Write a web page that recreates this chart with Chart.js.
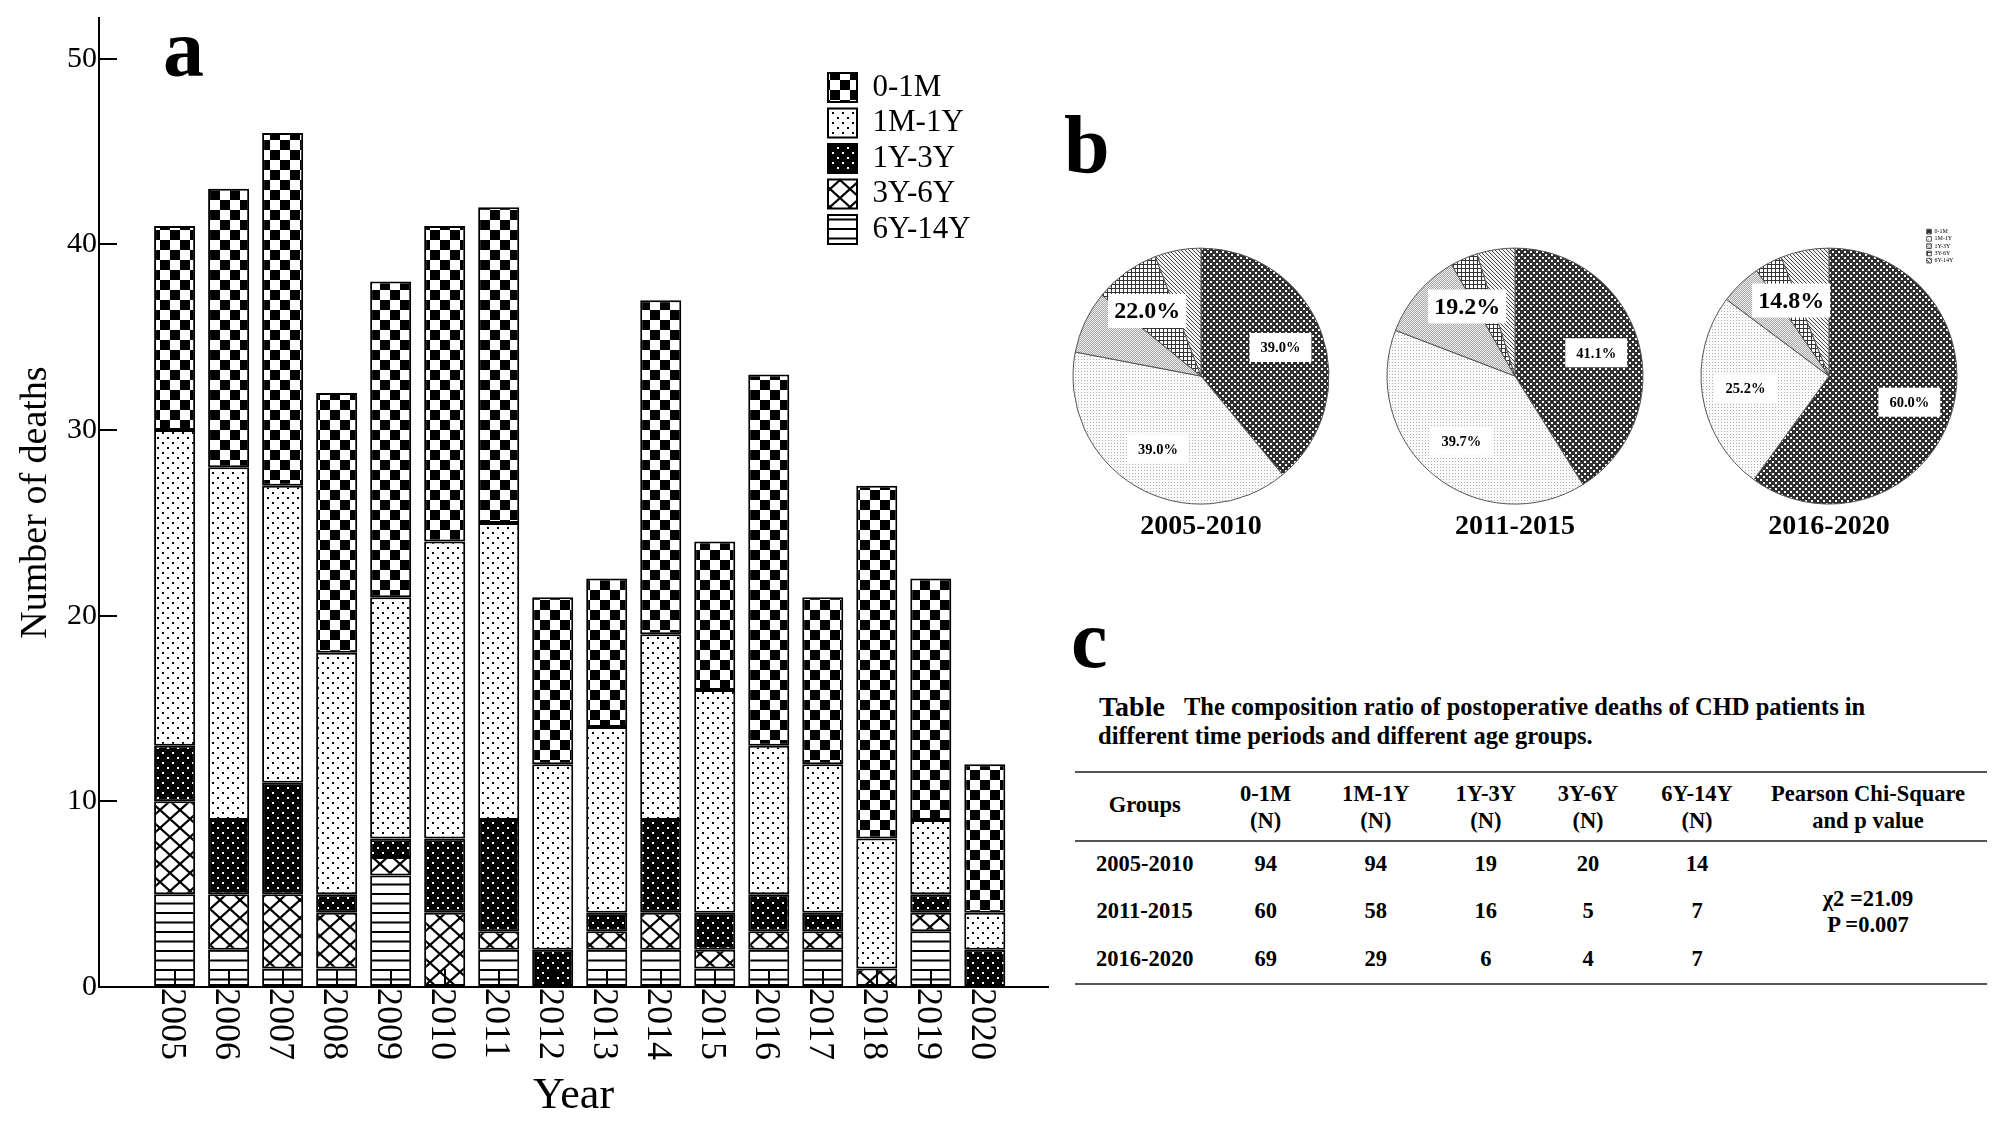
<!DOCTYPE html>
<html>
<head>
<meta charset="utf-8">
<script src="https://cdn.jsdelivr.net/npm/chart.js@4/dist/chart.umd.min.js"></script>
<style>
html,body{margin:0;padding:0;background:#fff;}
body{width:2008px;height:1130px;overflow:hidden;position:relative;font-family:'Liberation Serif','Times New Roman',serif;color:#000;}
canvas{position:absolute;}
.t{position:absolute;white-space:nowrap;font-weight:bold;}
.rule{position:absolute;height:2px;background:#555;left:1075px;width:912px;}
</style>
</head>
<body>
<canvas id="bar" width="1055" height="1130" style="left:0px;top:0px;width:1055px;height:1130px"></canvas>
<canvas id="pie1" width="300" height="344" style="left:1051px;top:200px;width:300px;height:344px"></canvas>
<canvas id="pie2" width="300" height="344" style="left:1365px;top:200px;width:300px;height:344px"></canvas>
<canvas id="pie3" width="300" height="344" style="left:1679px;top:200px;width:300px;height:344px"></canvas>
<div class="rule" style="top:770.7px"></div>
<div class="rule" style="top:839.7px"></div>
<div class="rule" style="top:983px"></div>
<script>
// ---------------- DATA ----------------
const ageGroups = ['0-1M', '1M-1Y', '1Y-3Y', '3Y-6Y', '6Y-14Y'];
const years = [2005, 2006, 2007, 2008, 2009, 2010, 2011, 2012, 2013, 2014, 2015, 2016, 2017, 2018, 2019, 2020];
const yearLabels = ['2005','2006','2007','2008','2009','2010','2011','2012','2013','2014','2015','2016','2017','2018','2019','2020'];
const deaths0_1M  = [11, 15, 19, 14, 17, 17, 17, 9, 8, 18, 8, 20, 9, 19, 13, 8];
const deaths1M_1Y = [17, 19, 16, 13, 13, 16, 16, 10, 10, 10, 12, 8, 8, 7, 4, 2];
const deaths1Y_3Y = [3, 4, 6, 1, 1, 4, 6, 2, 1, 5, 2, 2, 1, 0, 1, 2];
const deaths3Y_6Y = [5, 3, 4, 3, 1, 4, 1, 0, 1, 2, 1, 1, 1, 1, 1, 0];
const deaths6Y_14Y = [5, 2, 1, 1, 6, 0, 2, 0, 2, 2, 1, 2, 2, 0, 3, 0];
const periods = ['2005-2010', '2011-2015', '2016-2020'];
const periodCounts2005_2010 = [94, 94, 19, 20, 14];
const periodCounts2011_2015 = [60, 58, 16, 5, 7];
const periodCounts2016_2020 = [69, 29, 6, 4, 7];
const tableRows = [periodCounts2005_2010, periodCounts2011_2015, periodCounts2016_2020];
const chiLines = ['\u03c72 =21.09', 'P =0.007'];
const panelLetters = ['a', 'b', 'c'];
const tableTitleBold = 'Table';
const tableTitleRest = 'The composition ratio of postoperative deaths of CHD patients in';
const tableTitleLine2 = 'different time periods and different age groups.';
const headGroups = 'Groups';
const headN = '(N)';
const headPearson = ['Pearson Chi-Square', 'and p value'];

// ---------------- STYLE ----------------
const FONT = "'Liberation Serif', 'Times New Roman', serif";
Chart.defaults.font.family = FONT;
Chart.defaults.color = '#000';

function makePattern(w, h, draw) {
  const c = document.createElement('canvas');
  c.width = w; c.height = h;
  const g = c.getContext('2d');
  draw(g, w, h);
  return document.createElement('canvas').getContext('2d').createPattern(c, 'repeat');
}
const barPat = {
  checker: makePattern(20, 20, g => { g.fillStyle = '#fff'; g.fillRect(0,0,20,20); g.fillStyle = '#000'; g.fillRect(0,0,10,10); g.fillRect(10,10,10,10); }),
  lightDots: makePattern(10, 10, g => { g.fillStyle = '#fff'; g.fillRect(0,0,10,10); g.fillStyle = '#000'; g.fillRect(2,2,2,2); g.fillRect(7,7,2,2); }),
  darkDots: makePattern(10, 10, g => { g.fillStyle = '#000'; g.fillRect(0,0,10,10); g.fillStyle = '#fff'; g.fillRect(2,2,2,2); g.fillRect(7,7,2,2); }),
  cross: makePattern(20, 18, (g, w, h) => {
    g.fillStyle = '#fff'; g.fillRect(0,0,w,h); g.strokeStyle = '#000'; g.lineWidth = 2.2;
    for (let dx = -w; dx <= w; dx += w) for (let dy = -h; dy <= h; dy += h) {
      g.beginPath(); g.moveTo(dx, dy); g.lineTo(dx + w, dy + h); g.moveTo(dx + w, dy); g.lineTo(dx, dy + h); g.stroke();
    }
  }),
  hlines: makePattern(10, 19, (g, w, h) => { g.fillStyle = '#fff'; g.fillRect(0,0,w,h); g.fillStyle = '#000'; g.fillRect(0,0,w,2); g.fillRect(0,9.5,w,2); })
};
const piePat = [
  makePattern(6, 6, g => { g.fillStyle = '#303030'; g.fillRect(0,0,6,6); g.fillStyle = '#fff'; g.fillRect(0,0,2,2); g.fillRect(3,3,2,2); }),
  makePattern(3, 3, g => { g.fillStyle = '#fafafa'; g.fillRect(0,0,3,3); g.fillStyle = '#b0b0b0'; g.fillRect(0,0,1,1); }),
  makePattern(2, 2, g => { g.fillStyle = '#eeeeee'; g.fillRect(0,0,2,2); g.fillStyle = '#a8a8a8'; g.fillRect(0,0,1,1); g.fillRect(1,1,1,1); }),
  makePattern(4, 4, g => { g.fillStyle = '#fff'; g.fillRect(0,0,4,4); g.fillStyle = '#333'; g.fillRect(0,0,4,1); g.fillRect(0,0,1,4); }),
  makePattern(4, 4, g => { g.fillStyle = '#f4f4f4'; g.fillRect(0,0,4,4); g.fillStyle = '#444'; for (let i = 0; i < 4; i++) g.fillRect(i, i, 1, 1); })
];

// --------------- PLUGINS ---------------
const legendPlacer = {
  id: 'legendPlacer',
  afterLayout(chart, args, opts) {
    const lg = chart.legend;
    if (!lg || !opts || opts.left == null) return;
    const w = lg.width, h = lg.height;
    lg.left = opts.left; lg.top = opts.top; lg.right = opts.left + w; lg.bottom = opts.top + h;
  }
};
const rotatedXLabels = {
  id: 'rotatedXLabels',
  afterDraw(chart) {
    const sc = chart.scales.x, ctx = chart.ctx;
    ctx.save();
    ctx.font = "36px " + FONT;
    ctx.fillStyle = '#000'; ctx.textAlign = 'left'; ctx.textBaseline = 'middle';
    years.forEach((yr, i) => {
      const px = sc.getPixelForValue(yr);
      ctx.save(); ctx.translate(px, sc.top + 1); ctx.rotate(Math.PI / 2);
      ctx.fillText(yearLabels[i], 0, 3);
      ctx.restore();
    });
    ctx.restore();
  }
};
const pieLabels = {
  id: 'pieLabels',
  afterDatasetsDraw(chart) {
    const arcs = chart.getDatasetMeta(0).data;
    const vals = chart.data.datasets[0].data;
    const total = vals.reduce((a, b) => a + b, 0);
    const ctx = chart.ctx;
    const groups = [{from: 0, to: 0, big: false}, {from: 1, to: 1, big: false}, {from: 2, to: 4, big: true}];
    ctx.save();
    groups.forEach(gp => {
      const p0 = arcs[gp.from].getProps(['x', 'y', 'startAngle', 'outerRadius'], true);
      const p1 = arcs[gp.to].getProps(['endAngle'], true);
      const mid = (p0.startAngle + p1.endAngle) / 2;
      const r = p0.outerRadius * 0.66;
      let v = 0; for (let i = gp.from; i <= gp.to; i++) v += vals[i];
      const txt = (v / total * 100).toFixed(1) + '%';
      const cx = p0.x + Math.cos(mid) * r, cy = p0.y + Math.sin(mid) * r;
      ctx.font = 'bold ' + (gp.big ? 24 : 14.5) + 'px ' + FONT;
      const w = ctx.measureText(txt).width + (gp.big ? 12 : 22);
      const h = gp.big ? 34 : 29;
      ctx.fillStyle = '#fff'; ctx.fillRect(cx - w / 2, cy - h / 2, w, h);
      ctx.fillStyle = '#000'; ctx.textAlign = 'center'; ctx.textBaseline = 'middle';
      ctx.fillText(txt, cx, cy + 1);
    });
    ctx.restore();
  }
};

// --------------- BAR CHART ---------------
const barSeries = [
  {label: ageGroups[4], values: deaths6Y_14Y, bg: barPat.hlines},
  {label: ageGroups[3], values: deaths3Y_6Y, bg: barPat.cross},
  {label: ageGroups[2], values: deaths1Y_3Y, bg: barPat.darkDots},
  {label: ageGroups[1], values: deaths1M_1Y, bg: barPat.lightDots},
  {label: ageGroups[0], values: deaths0_1M, bg: barPat.checker}
];
new Chart(document.getElementById('bar'), {
  type: 'bar',
  data: {
    datasets: barSeries.map(s => ({
      label: s.label,
      data: years.map((yr, i) => ({x: yr, y: s.values[i]})),
      backgroundColor: s.bg, borderColor: '#000', borderWidth: 2, borderSkipped: false,
      barPercentage: 0.76, categoryPercentage: 1
    }))
  },
  options: {
    responsive: false, animation: false, events: [], devicePixelRatio: 1,
    layout: {padding: {left: 0, top: 18, right: 7, bottom: 0}},
    scales: {
      x: {
        type: 'linear', position: 'bottom', stacked: true, offset: false, bounds: 'data',
        min: 2003.6, max: 2021.17,
        afterBuildTicks: sc => { sc.ticks = years.map(v => ({value: v})); },
        afterFit: sc => { sc.height = 143; sc.paddingLeft = 0; sc.paddingRight = 0; },
        ticks: {display: false, stepSize: 1},
        grid: {offset: false, drawOnChartArea: false, drawTicks: true, tickLength: -18, color: '#000', lineWidth: 2, z: 1},
        border: {display: true, color: '#000', width: 2, z: 1},
        title: {display: true, text: 'Year', color: '#000', font: {size: 44}, padding: {top: 0, bottom: 7.6}}
      },
      y: {
        type: 'linear', stacked: true, min: 0, max: 52.2,
        afterFit: sc => { sc.width = 99; sc.paddingTop = 0; sc.paddingBottom = 0; },
        ticks: {stepSize: 10, includeBounds: false, color: '#000', font: {size: 30}, padding: 20},
        grid: {drawOnChartArea: false, drawTicks: true, tickLength: -18, color: '#000', lineWidth: 2},
        border: {display: true, color: '#000', width: 2},
        title: {display: true, text: 'Number of deaths', color: '#000', font: {size: 38}, padding: {top: 13.2, bottom: 0}}
      }
    },
    plugins: {
      legend: {
        display: true, position: 'chartArea', align: 'start', reverse: true,
        labels: {boxWidth: 29, boxHeight: 29, padding: 4.5, color: '#000', font: {size: 31}}
      },
      legendPlacer: {left: 823.5, top: 67.5},
      tooltip: {enabled: false}
    }
  },
  plugins: [legendPlacer, rotatedXLabels]
});

// --------------- PIE CHARTS ---------------
['pie1', 'pie2', 'pie3'].forEach((id, idx) => {
  const withLegend = idx === 2;
  new Chart(document.getElementById(id), {
    type: 'pie',
    data: {
      labels: ageGroups,
      datasets: [{data: tableRows[idx], backgroundColor: piePat, borderColor: '#555', borderWidth: 1}]
    },
    options: {
      responsive: false, animation: false, events: [], devicePixelRatio: 1,
      layout: {padding: {left: 21.5, right: 21.5, top: 47.5, bottom: 0}},
      plugins: {
        legend: {
          display: withLegend, position: 'chartArea', align: 'start',
          labels: {boxWidth: 4.7, boxHeight: 4.7, padding: 1.25, color: '#000', font: {size: 6}}
        },
        legendPlacer: withLegend ? {left: 246.45, top: 27.4} : {},
        title: {display: true, text: periods[idx], position: 'bottom', color: '#000',
                font: {size: 28, weight: 'bold'}, padding: {top: 5.7, bottom: 0}},
        tooltip: {enabled: false}
      }
    },
    plugins: [legendPlacer, pieLabels]
  });
});

// --------------- TEXT (letters + table) ---------------
function put(text, x, baseline, size, align) {
  const d = document.createElement('div');
  d.className = 't';
  d.textContent = text;
  d.style.fontSize = size + 'px';
  d.style.lineHeight = size + 'px';
  d.style.top = (baseline - 0.8375 * size) + 'px';
  d.style.left = x + 'px';
  if (align === 'center') d.style.transform = 'translateX(-50%)';
  document.body.appendChild(d);
}
put(panelLetters[0], 163, 77, 82, 'left');
put(panelLetters[1], 1064, 173, 82, 'left');
put(panelLetters[2], 1071, 668, 82, 'left');

put(tableTitleBold, 1099, 716, 28, 'left');
put(tableTitleRest, 1184, 716, 24.5, 'left');
put(tableTitleLine2, 1098, 745, 24.5, 'left');

const colX = [1144.7, 1265.7, 1375.8, 1485.8, 1588, 1697, 1868];
const headBase = [801.7, 829.3];
const rowBase = [871.7, 919, 966.7];
put(headGroups, colX[0], 813, 22.5, 'center');
ageGroups.forEach((g, i) => {
  put(g, colX[i + 1], headBase[0], 22.5, 'center');
  put(headN, colX[i + 1], headBase[1], 22.5, 'center');
});
put(headPearson[0], colX[6], headBase[0], 22.5, 'center');
put(headPearson[1], colX[6], headBase[1], 22.5, 'center');
tableRows.forEach((row, r) => {
  put(periods[r], colX[0], rowBase[r], 22.5, 'center');
  row.forEach((v, c) => put(String(v), colX[c + 1], rowBase[r], 22.5, 'center'));
});
put(chiLines[0], colX[6], 906.6, 22.5, 'center');
put(chiLines[1], colX[6], 932.6, 22.5, 'center');
</script>
</body>
</html>
